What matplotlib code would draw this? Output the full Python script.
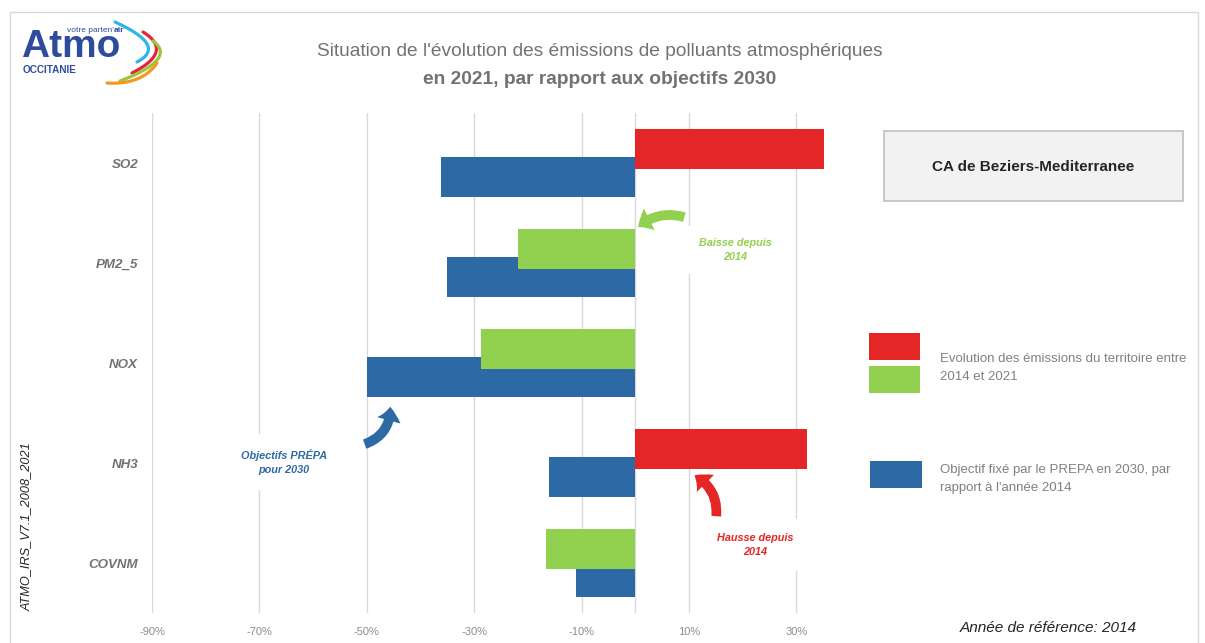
import numpy as np
import matplotlib
matplotlib.use("Agg")
import matplotlib.pyplot as plt
from matplotlib import font_manager
from matplotlib.patches import FancyArrowPatch, Rectangle

# ---------------- data ----------------
categories = ["SO2", "PM2_5", "NOX", "NH3", "COVNM"]
evolution_2014_2021 = [35.2, -21.9, -28.8, 32.0, -16.7]
objectif_prepa_2030 = [-36.1, -35.0, -50.0, -16.0, -11.0]
xtick_values = [-90, -70, -50, -30, -10, 10, 30]
xtick_labels = ["-90%", "-70%", "-50%", "-30%", "-10%", "10%", "30%"]

title_line1 = "Situation de l'évolution des émissions de polluants atmosphériques"
title_line2 = "en 2021, par rapport aux objectifs 2030"
territory = "CA de Beziers-Mediterranee"
legend_evol = "Evolution des émissions du territoire entre\n2014 et 2021"
legend_obj = "Objectif fixé par le PREPA en 2030, par\nrapport à l'année 2014"

RED = "#E42726"
GREEN = "#92D050"
BLUE = "#2D6AA5"
GRID = "#D9D9D9"
GRAYTXT = "#767171"

avail = {f.name for f in font_manager.fontManager.ttflist}
NARROW = ["Liberation Sans Narrow", "Liberation Sans", "DejaVu Sans"]
NARROW = [f for f in NARROW if f in avail] or ["DejaVu Sans"]
plt.rcParams["font.family"] = NARROW

W, H = 1205, 643
fig = plt.figure(figsize=(W / 100, H / 100), dpi=100)

def fx(x):
    return x / W

def fy(y):
    return 1 - y / H

# ---------------- main axes ----------------
ax_l, ax_r, ax_t, ax_b = 152, 850, 113, 613
ax = fig.add_axes([fx(ax_l), fy(ax_b), fx(ax_r - ax_l), (ax_b - ax_t) / H])
ax.set_xlim(-90, (ax_r - 635) / 53.75 * 10)
ax.set_ylim(4.5, -0.5)

ypos = np.arange(len(categories))
off = 0.14
hgt = 0.4
ax.barh(ypos + off, objectif_prepa_2030, height=hgt, color=BLUE, zorder=3)
evol_colors = [RED if v > 0 else GREEN for v in evolution_2014_2021]
ax.barh(ypos - off, evolution_2014_2021, height=hgt, color=evol_colors, zorder=4)

ax.set_xticks(xtick_values)
ax.set_xticklabels(xtick_labels, fontsize=8, color="#8C8C8C")
ax.tick_params(axis="x", length=0, pad=10)
ax.set_yticks(ypos)
ax.set_yticklabels(categories, fontsize=9.6, color=GRAYTXT, fontweight="bold", fontstyle="italic")
ax.tick_params(axis="y", length=0, pad=10)
ax.xaxis.grid(True, color=GRID, linewidth=1)
ax.set_axisbelow(True)
ax.axvline(0, color=GRID, linewidth=1, zorder=1)
for s in ax.spines.values():
    s.set_visible(False)

# ---------------- overlay for decorations (pixel coords) ----------------
ov = fig.add_axes([0, 0, 1, 1], zorder=10)
ov.set_xlim(0, W)
ov.set_ylim(H, 0)
ov.axis("off")
ov.patch.set_alpha(0)

# chart border
ov.add_patch(Rectangle((10, 12), 1188, 640, fill=False, edgecolor="#D9D9D9", linewidth=1))

# title
ov.text(600, 51, title_line1, ha="center", va="center", fontsize=13.8, color=GRAYTXT)
ov.text(600, 79, title_line2, ha="center", va="center", fontsize=13.8, color=GRAYTXT, fontweight="bold")

# logo
LOGO = "#2F4C9C"
LF = ["Liberation Sans", "DejaVu Sans"]
ov.text(21, 57, "Atmo", ha="left", va="baseline", fontsize=28, fontweight="bold", color=LOGO, family=LF)
t1 = ov.text(67, 31, "votre parten'", ha="left", va="center", fontsize=6, color=LOGO, family=LF)
ov.annotate("air", xy=(1, 0.5), xycoords=t1, ha="left", va="center", fontsize=6, color=LOGO,
            fontweight="bold", family=LF)
ov.text(23, 70, "OCCITANIE", ha="left", va="center", fontsize=7.2, color=LOGO, fontweight="bold", family=LF)

def bez(p0, m, p2, color, lw):
    p0, m, p2 = map(np.array, (p0, m, p2))
    p1 = 2 * m - (p0 + p2) / 2
    t = np.linspace(0, 1, 40)[:, None]
    pts = (1 - t) ** 2 * p0 + 2 * (1 - t) * t * p1 + t ** 2 * p2
    ov.plot(pts[:, 0], pts[:, 1], color=color, lw=lw, solid_capstyle="round")

bez((115, 22), (147, 44), (137, 62), "#2AB7E8", 2.3)
bez((143, 32), (156, 52), (132, 73), "#E5233B", 2.3)
bez((153, 41), (157, 60), (120, 81), "#9BC53D", 2.3)
bez((157, 63), (137, 79), (107, 83), "#F39A1E", 2.3)

# territory box
ov.add_patch(Rectangle((884, 131), 299, 70, facecolor="#F2F2F2", edgecolor="#BFBFBF", linewidth=1.2))
ov.text(1033, 167, territory, ha="center", va="center", fontsize=11, fontweight="bold", color="#262626",
        family=LF)

# legend
ov.add_patch(Rectangle((869, 333), 51, 27, facecolor=RED, edgecolor="none"))
ov.add_patch(Rectangle((869, 366), 51, 27, facecolor=GREEN, edgecolor="none"))
ov.add_patch(Rectangle((870, 461), 52, 27, facecolor=BLUE, edgecolor="none"))
ov.text(940, 368, legend_evol, ha="left", va="center", fontsize=9.5, color="#808080", linespacing=1.75)
ov.text(940, 479, legend_obj, ha="left", va="center", fontsize=9.5, color="#808080", linespacing=1.75)

# annotations
ov.text(735, 250, "Baisse depuis\n2014", ha="center", va="center", fontsize=7.8, color=GREEN,
        fontweight="bold", fontstyle="italic", linespacing=1.5,
        bbox=dict(boxstyle="square,pad=1.1", facecolor="white", edgecolor="none"))
ov.text(755, 545, "Hausse depuis\n2014", ha="center", va="center", fontsize=7.8, color=RED,
        fontweight="bold", fontstyle="italic", linespacing=1.5,
        bbox=dict(boxstyle="square,pad=1.3", facecolor="white", edgecolor="none"))
ov.text(284, 462, "Objectifs PRÉPA\npour 2030", ha="center", va="center", fontsize=7.8, color=BLUE,
        fontweight="bold", fontstyle="italic", linespacing=1.5,
        bbox=dict(boxstyle="square,pad=1.4", facecolor="white", edgecolor="none"))

arrowstyle = "simple,head_length=0.7,head_width=1.25,tail_width=0.5"
for (a, b, rad, col) in [((687, 218), (636, 229), 0.3, GREEN),
                         ((716, 519), (692, 474), 0.35, RED),
                         ((362, 445), (390, 404), 0.4, BLUE)]:
    ov.add_patch(FancyArrowPatch(a, b, connectionstyle=f"arc3,rad={rad}", arrowstyle=arrowstyle,
                                 mutation_scale=14, color=col, linewidth=0))

# side texts
ov.text(27, 527, "ATMO_IRS_V7.1_2008_2021", rotation=90, ha="center", va="center", fontsize=9.2,
        fontstyle="italic", color="#262626")
ov.text(1048, 628, "Année de référence: 2014", ha="center", va="center", fontsize=11.1,
        fontstyle="italic", color="#262626")

fig.savefig("out.png", dpi=100)
